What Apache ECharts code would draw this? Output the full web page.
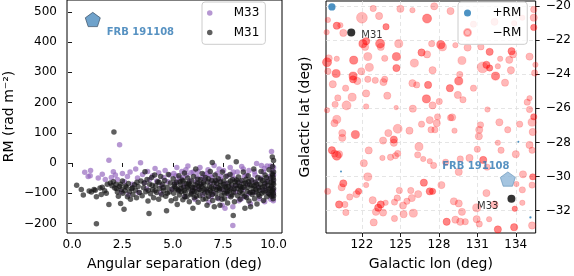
<!DOCTYPE html>
<html><head><meta charset="utf-8">
<script src="https://cdn.jsdelivr.net/npm/echarts@6/dist/echarts.min.js"></script>
<style>html,body{margin:0;padding:0;background:#fff}#c{width:574px;height:276px}</style>
</head><body><div id="c"></div>
<script>
// ---- tick labels ----
const sepTicks = [0, 2.5, 5, 7.5, 10];
const rmTicks = [-200, -100, 0, 100, 200, 300, 400, 500];
const lonTicks = [122, 125, 128, 131, 134];
const latTicks = [-32, -30, -28, -26, -24, -22, -20];

// ---- left panel: [angular separation (deg), RM (rad m^-2)] ----
const m33Points = [
[0.63,-31],[0.92,-25],[0.8,-45],[0.9,-42],[1.5,-37],[1.83,9],[2.05,-29],[1.3,-50],[1.65,-55],[1.95,-48],
[2.36,60],[2.15,-40],[2.25,-55],[2.5,-35],[2.6,-62],[2.75,-45],[2.88,-30],[3.0,-70],[3.16,-20],[3.25,-50],
[3.4,1],[3.5,-38],[3.6,-65],[3.75,-28],[3.85,-55],[4.0,-42],[4.12,-18],[4.2,-60],[4.3,-32],[4.45,-75],
[4.55,-48],[4.62,-25],[4.75,-62],[4.85,-40],[4.95,-88],[2.45,-95],[3.3,-98],[3.7,-85],[4.4,-100],[2.8,-105],
[5.05,-35],[5.12,-68],[5.2,-15],[5.3,-90],[5.35,-50],[5.45,-28],[5.55,-75],[5.6,-112],[5.68,-40],[5.75,-10],
[5.85,-58],[5.95,-95],[6.02,-30],[6.1,-120],[6.15,-62],[6.2,-45],[6.28,-85],[6.35,-15],[6.4,-70],[6.48,-105],
[6.55,-38],[6.6,-55],[6.68,-92],[6.75,-22],[6.8,-130],[6.88,-65],[6.95,-48],[7.0,-100],[7.05,-8],[7.12,-78],
[7.2,-35],[7.28,-118],[7.35,-55],[7.4,-88],[7.45,-140],[7.52,-25],[7.59,-150],[7.62,-68],[7.7,-42],[7.78,-108],
[7.85,-15],[7.92,-80],[7.98,-145],[7.98,-207],[8.05,-52],[8.12,-95],[8.2,-30],[8.28,-125],[8.35,-62],[8.42,-12],
[8.48,-88],[8.55,-45],[8.62,-110],[8.7,-70],[8.78,-25],[8.85,-135],[8.92,-58],[9.0,-98],[9.08,-40],[9.16,-2],
[9.22,-78],[9.3,-118],[9.36,-50],[9.44,-90],[9.5,-30],[9.56,-128],[9.62,-68],[9.68,-10],[9.74,-100],[9.8,-45],
[9.86,-120],[9.9,38],[9.92,-80],[9.95,-25],[9.97,-60],[9.98,-105],[10.0,-15],[10.0,-92],[10.0,-40],[9.99,-125],
[5.25,-60],[5.9,-32],[6.45,-50],[7.15,-60],[7.65,-95],[8.15,-75],[8.65,-40],[9.12,-62],[9.6,-85],[6.9,-112],
[8.4,-118],[5.5,-48],[6.05,-82],[6.7,-35],[7.3,-20],[8.0,-30],[8.8,-100],[9.4,-8],[9.7,-55],
[5.15,-42],[5.65,-22],[6.25,-28],[6.85,-40],[7.4,-45],[7.95,-40],[8.5,-20],[9.05,-28],[9.55,-18],[9.85,-10]
];
const m31Points = [
[0.23,-74],[0.46,-88],[0.56,-106],[0.96,-96],[1.09,-88],[1.21,-112],[1.39,-83],[1.5,-80],[1.62,-92],[1.45,-104],
[1.21,-201],[1.75,-70],[1.83,-137],[1.9,-66],[1.98,-75],[1.15,-90],[0.85,-93],[1.7,-100],[2.08,103],
[2.05,-62],[2.12,-83],[2.18,-70],[2.25,-96],[2.3,-110],[2.36,-78],[2.41,-134],[2.45,-88],[2.5,-60],[2.52,-100],
[2.58,-153],[2.62,-92],[2.7,-80],[2.75,-112],[2.8,-68],[2.85,-95],[2.9,-120],[2.95,-85],[3.02,-104],[3.1,-72],
[3.15,-90],[3.2,-115],[3.28,-78],[3.35,-98],[3.42,-60],[3.48,-108],
[3.55,-82],[3.62,-29],[3.66,-95],[3.72,-55],[3.77,-126],[3.82,-167],[3.85,-70],[3.9,-102],[3.95,-48],[4.0,-88],
[4.05,-115],[4.1,-40],[4.15,-75],[4.2,-98],[4.25,-62],[4.3,-120],[4.35,-84],[4.4,-45],[4.45,-105],[4.5,-70],
[4.55,-92],[4.6,-58],[4.65,-110],[4.69,-158],[4.72,-80],[4.78,-38],[4.82,-96],[4.88,-66],[4.92,-125],[4.97,-85],
[5.02,-52],[5.05,-100],[5.1,-78],[5.14,-118],[5.18,-64],[5.22,-137],[5.25,-88],[5.3,-42],[5.33,-106],[5.38,-72],
[5.42,-95],[5.46,-56],[5.5,-122],[5.54,-80],[5.58,-33],[5.62,-98],[5.66,-68],[5.7,-112],[5.74,-50],[5.78,-86],
[5.82,-128],[5.86,-74],[5.9,-104],[5.94,-60],[5.98,-90],[6.0,-150],[6.03,-45],[6.07,-115],[6.1,-82],[6.14,-20],
[6.18,-96],[6.22,-66],[6.26,-130],[6.3,-78],[6.34,-108],[6.38,-55],[6.42,-92],[6.46,-35],[6.5,-120],[6.54,-70],
[6.58,-100],[6.62,-48],[6.66,-86],[6.7,-140],[6.74,-62],[6.78,-110],[6.82,-76],[6.86,-28],[6.9,-96],[6.94,-58],
[6.96,2],[6.98,-124],[7.02,-84],[7.06,-145],[7.1,-40],[7.14,-102],[7.18,-68],[7.22,-116],[7.26,-52],[7.3,-90],
[7.34,-140],[7.38,-74],[7.42,-106],[7.46,-30],
[7.5,-88],[7.53,-60],[7.57,-118],[7.6,-78],[7.64,-45],[7.68,-100],[7.72,-132],[7.74,20],[7.76,-66],[7.8,-92],
[7.84,-38],[7.88,-112],[7.92,-72],[7.96,-55],[8.0,-174],[8.02,-98],[8.06,-128],[8.1,-62],[8.15,4],[8.18,-84],
[8.22,-108],[8.26,-46],[8.3,-76],[8.34,-120],[8.38,-90],[8.42,-58],[8.46,-102],[8.5,-30],[8.54,-80],[8.58,-150],
[8.62,-66],[8.66,-114],[8.7,-94],[8.74,-42],[8.78,-126],[8.82,-72],[8.86,-145],[8.9,-56],[8.94,-104],[8.98,-84],
[9.02,-20],[9.06,-118],[9.1,-64],[9.14,-96],[9.18,-136],[9.22,-48],[9.26,-82],[9.3,-110],[9.34,-70],[9.38,-28],
[9.42,-100],[9.46,-58],[9.5,-124],[9.54,-78],[9.58,-40],[9.62,-92],[9.66,-112],[9.7,-62],[9.74,-86],[9.78,-22],
[9.82,-104],[9.86,-50],[9.9,-76],[9.92,-94],[9.94,20],[9.96,-40],[9.97,-66],[9.98,-118],[10.0,-84],[10.0,-56],
[10.0,-30],[10.0,8],[9.99,-100],[9.95,-12],
[5.08,-70],[5.28,-92],[5.52,-60],[5.72,-80],[5.92,-100],[6.12,-72],[6.32,-88],[6.52,-64],[6.72,-96],[6.92,-80],
[7.12,-58],[7.32,-84],[7.52,-70],[7.72,-94],[7.9,-86],[8.12,-74],[8.32,-96],[8.52,-68],[8.72,-80],[8.92,-74],
[9.12,-88],[9.32,-90],[9.52,-96],[9.72,-74],[9.88,-64],[5.4,-84],[5.6,-112],[5.8,-66],[6.06,-94],[6.24,-54],
[6.44,-78],[6.64,-118],[6.84,-90],[7.04,-66],[7.24,-80],[7.44,-120],[7.66,-82],[7.86,-60],[8.04,-86],[8.24,-64],
[8.44,-82],[8.64,-54],[8.84,-98],[9.04,-76],[9.24,-104],[9.44,-80],[9.64,-48],[9.84,-84],[4.12,-92],[4.32,-64],
[4.52,-82],[4.72,-100],[3.58,-66],[3.78,-90],[3.98,-74],[3.0,-82],[3.22,-64],[2.65,-76],[2.2,-84],[2.4,-70],
[5.16,-84],[5.36,-62],[5.56,-92],[5.76,-70],[5.96,-80],[6.16,-110],[6.36,-70],[6.56,-86],[6.76,-52],[6.96,-104],
[7.16,-88],[7.36,-62],[7.56,-100],[7.76,-78],[7.94,-106],[8.16,-56],[8.36,-78],[8.56,-110],[8.76,-62],[8.96,-96],
[9.16,-70],[9.36,-54],[9.56,-66],[9.76,-100],[9.9,-110],[10.0,-70],[9.98,-48],[9.96,-90],[9.93,-36],[10.0,-108]
];

// ---- right panel: negative RM sources [lon, lat, RM, overlapping measurements] ----
const negRM = [
[119.35,-20.82,-60,1],[120.04,-21.16,-80,2],[120.32,-21.13,-60,1],[120.55,-21.58,-80,1],[122.0,-20.69,-120,1],
[122.88,-20.15,-70,1],[123.34,-20.59,-80,1],[123.88,-21.22,-70,2],[125.0,-20.17,-80,1],[125.94,-20.25,-60,1],
[127.08,-20.74,-100,2],[119.25,-21.54,-60,1],[122.08,-22.21,-90,2],[122.33,-22.07,-80,2],[122.25,-22.4,-80,1],
[123.42,-22.21,-100,2],[123.47,-22.4,-80,1],[124.87,-22.21,-90,1],[119.41,-23.07,-80,1],[119.28,-23.3,-100,2],
[120.04,-23.1,-60,1],[121.36,-23.18,-90,2],[122.46,-22.97,-90,1],[123.78,-23.07,-70,1],[124.69,-22.97,-90,2],
[126.09,-23.35,-90,1],[126.65,-22.73,-80,2],[127.08,-22.84,-80,1],[119.35,-23.83,-70,1],[119.99,-23.96,-90,2],
[121.95,-23.83,-80,1],[122.58,-23.6,-90,1],[124.69,-23.64,-80,2],[121.31,-24.11,-90,2],[121.31,-24.3,-80,2],
[121.64,-24.4,-80,1],[122.46,-24.3,-70,1],[123.04,-24.36,-70,1],[123.78,-24.3,-70,1],[123.68,-24.46,-80,1],
[119.73,-24.59,-80,1],[120.73,-24.82,-70,1],[122.33,-25.13,-80,1],[123.98,-25.26,-80,1],[125.94,-24.53,-80,1],
[126.27,-24.63,-70,1],[127.16,-24.63,-80,2],[120.12,-25.39,-70,1],[121.24,-25.35,-90,1],[119.91,-25.77,-70,1],
[120.8,-25.83,-100,1],[122.33,-25.89,-60,1],[124.67,-25.96,-50,1],[125.97,-26.02,-80,1],[127.03,-25.45,-90,2],
[119.28,-26.11,-60,1],
[128.91,-20.3,-80,1],[127.44,-22.21,-70,1],[128.15,-22.27,-90,2],[128.28,-22.4,-90,1],[129.29,-22.3,-60,1],
[130.24,-22.44,-80,1],[131.28,-22.4,-70,1],[131.96,-22.69,-80,2],[133.67,-22.65,-80,2],[133.79,-22.84,-80,1],
[129.8,-23.2,-90,1],[127.51,-23.77,-80,1],[131.41,-23.6,-120,1],[131.71,-23.45,-80,2],[131.96,-23.64,-70,2],
[132.6,-23.54,-60,1],[132.78,-23.1,-60,1],[133.49,-23.16,-80,1],[133.62,-23.77,-80,1],[132.42,-24.11,-90,2],
[133.16,-24.5,-80,1],[129.63,-24.02,-70,1],[129.55,-24.4,-90,2],[128.86,-24.82,-80,2],[130.7,-24.82,-70,1],
[129.48,-25.22,-80,1],[129.88,-25.5,-70,1],[128.03,-25.6,-70,1],[127.51,-25.83,-80,1],[129.04,-26.53,-80,1],
[127.9,-26.5,-70,1],[131.79,-26.07,-60,1],[134.89,-25.64,-70,1],[135.07,-26.07,-70,1],[135.07,-25.41,-60,1],
[135.4,-26.5,-70,2],[135.07,-22.97,-80,1],[135.4,-20.69,-80,1],[135.4,-21.26,-70,2],[135.53,-23.45,-60,1],
[135.47,-23.93,-70,1],[135.4,-20.21,-70,1],[130.7,-21.07,-70,1],[132.34,-20.93,-80,1],[133.87,-21.01,-60,1],
[134.51,-20.69,-60,1],[127.64,-20.02,-80,1],
[120.04,-26.65,-90,1],[119.86,-26.87,-80,1],[120.47,-27.45,-80,1],[120.47,-27.73,-80,1],[121.49,-27.54,-90,2],
[119.66,-28.46,-80,2],[120.04,-28.78,-100,2],[119.86,-28.65,-80,1],[120.22,-28.69,-80,1],[122.53,-28.47,-80,1],
[122.15,-29.22,-80,1],[123.65,-27.89,-80,1],[124.06,-27.45,-80,1],[124.49,-27.83,-80,2],[124.49,-28.02,-80,1],
[124.79,-27.2,-100,1],[125.71,-27.31,-80,1],[126.65,-26.93,-70,1],[127.29,-26.69,-80,1],[123.6,-28.91,-60,1],
[124.23,-28.87,-70,1],[124.62,-28.78,-70,1],[124.79,-28.65,-70,1],[126.45,-28.25,-90,1],[126.35,-28.73,-70,1],
[126.78,-28.97,-60,1],[127.29,-29.1,-60,1],[122.46,-30.02,-90,1],[122.33,-30.5,-60,1],[120.55,-30.4,-80,2],
[120.42,-30.63,-80,1],[119.33,-30.87,-70,1],[121.57,-31.03,-80,1],[121.74,-30.87,-70,2],[121.05,-31.2,-70,1],
[120.22,-31.64,-80,2],[120.67,-31.64,-70,1],[120.75,-32.11,-70,1],[122.84,-31.39,-80,1],[123.47,-31.64,-80,2],
[123.27,-31.83,-80,2],[123.09,-32.07,-80,1],[123.65,-32.11,-80,1],[123.85,-31.54,-60,1],[124.54,-31.5,-70,1],
[124.75,-31.26,-70,1],[124.92,-30.82,-70,1],[125.2,-31.7,-80,1],[125.51,-31.45,-70,1],[125.89,-31.26,-80,1],
[125.81,-30.82,-70,1],[126.39,-31.03,-80,1],[126.83,-30.36,-80,2],[127.29,-30.87,-80,2],[125.25,-32.21,-80,1],
[126.01,-32.15,-90,1],[124.54,-32.46,-70,1],[122.92,-32.69,-80,1],
[127.84,-26.87,-80,1],[127.39,-27.26,-70,1],[127.69,-27.26,-70,1],[128.91,-26.55,-70,1],[129.22,-27.31,-60,1],
[131.15,-27.26,-80,1],[131.25,-26.97,-70,1],[131.12,-27.64,-80,1],[132.72,-26.82,-80,1],[133.37,-27.26,-70,1],
[134.3,-26.93,-70,1],[135.27,-26.82,-90,1],[135.32,-27.39,-80,1],[135.07,-28.15,-80,1],[135.27,-28.46,-70,1],
[134.0,-28.69,-80,1],[132.6,-28.02,-60,1],[132.85,-28.46,-70,1],[131.0,-28.4,-70,1],[130.39,-28.91,-80,1],
[131.46,-29.03,-80,2],[131.76,-29.45,-70,1],[129.67,-28.97,-70,1],[128.53,-29.16,-70,1],[127.59,-29.35,-70,1],
[129.55,-29.73,-80,1],[127.51,-30.87,-70,2],[128.2,-30.5,-80,1],[134.56,-29.87,-80,1],[134.05,-30.44,-60,1],
[134.51,-30.78,-70,1],[135.32,-30.02,-70,2],[135.27,-30.5,-70,1],[131.71,-30.97,-80,1],[129.17,-31.45,-80,1],
[129.55,-31.58,-80,1],[129.8,-32.07,-80,1],[130.95,-31.83,-90,1],[130.95,-32.5,-80,1],[131.92,-32.5,-60,1],
[132.34,-31.64,-80,1],[133.92,-31.89,-60,2],[134.51,-31.54,-60,1],[135.27,-32.87,-80,1],[128.61,-32.65,-80,2],
[129.29,-32.53,-80,1],[129.67,-32.65,-80,1],[130.06,-32.65,-70,1],[131.15,-32.78,-70,1],[132.6,-33.1,-80,2],
[133.87,-32.97,-80,2]
];
// positive RM sources [lon, lat, RM]
const posRM = [[119.66,-20.06,80],[120.37,-29.7,20],[134.2,-27.96,20],[135.14,-32.4,25]];
// galaxies
const galaxyNames = ['M31', 'M33'];
const galaxyLon = [121.17, 133.66];
const galaxyLat = [-21.55, -31.3];
// FRB
const frbName = 'FRB 191108';
const frbSep = 1.03, frbRM = 475, frbLon = 133.38, frbLat = -30.15;

const FONT = 'DejaVu Sans';
const minus = v => String(v).replace('-', '\u2212');
const pent = 'path://M0,-10L9.511,-3.09L5.878,8.09L-5.878,8.09L-9.511,-3.09Z';
const tick = vals => ({show: true, inside: false, length: 4, lineStyle: {color: '#000', width: 0.9}, customValues: vals});
const lbl = (vals, fmt, margin) => ({customValues: vals, formatter: fmt, fontSize: 12, color: '#000', margin: margin, fontFamily: FONT});
const nameStyle = {fontSize: 14, color: '#000', fontFamily: FONT};
const sizeOf = rm => Math.max(2, Math.abs(rm) / 11);

const chart = echarts.init(document.getElementById('c'), null, {renderer: 'canvas'});
const option = {
  animation: false,
  textStyle: {fontFamily: FONT},
  grid: [
    {left: 67, top: -2, width: 215, height: 238, show: true, borderColor: '#000', borderWidth: 1, backgroundColor: 'transparent'},
    {left: 326, top: -2, width: 214, height: 238, show: true, borderColor: '#000', borderWidth: 1, backgroundColor: 'transparent'}
  ],
  xAxis: [
    {type: 'value', gridIndex: 0, min: -0.25, max: 10.42, axisLine: {show: false}, axisTick: tick(sepTicks),
     axisLabel: lbl(sepTicks, v => v.toFixed(1), 6), splitLine: {show: false},
     name: 'Angular separation (deg)', nameLocation: 'middle', nameGap: 24, nameTextStyle: nameStyle},
    {type: 'value', gridIndex: 1, min: 119.2, max: 135.55, axisLine: {show: false}, axisTick: tick(lonTicks),
     axisLabel: lbl(lonTicks, v => String(v), 6),
     splitLine: {show: true, lineStyle: {color: '#dedede', type: [4, 3], width: 0.8}},
     name: 'Galactic lon (deg)', nameLocation: 'middle', nameGap: 24, nameTextStyle: nameStyle}
  ],
  yAxis: [
    {type: 'value', gridIndex: 0, min: -231.7, max: 539.5, axisLine: {show: false}, axisTick: tick(rmTicks),
     axisLabel: lbl(rmTicks, minus, 10), splitLine: {show: false},
     name: 'RM (rad m\u207B\u00B2)', nameLocation: 'middle', nameGap: 51, nameRotate: 90, nameTextStyle: nameStyle},
    {type: 'value', gridIndex: 1, position: 'right', min: -33.31, max: -19.71, axisLine: {show: false}, axisTick: tick(latTicks),
     axisLabel: lbl(latTicks, minus, 10),
     splitLine: {show: true, lineStyle: {color: '#dedede', type: [4, 3], width: 0.8}}},
    {type: 'value', gridIndex: 1, position: 'left', min: -33.31, max: -19.71, axisLine: {show: false}, axisTick: {show: false},
     axisLabel: {show: false}, splitLine: {show: false},
     name: 'Galactic lat (deg)', nameLocation: 'middle', nameGap: 14, nameRotate: 90, nameTextStyle: nameStyle}
  ],
  legend: [
    {data: ['M33', 'M31'], orient: 'vertical', left: 202, top: 2, itemWidth: 25, itemHeight: 5.5, itemGap: 5.6,
     padding: [4, 6, 4.7, 5], selectedMode: false,
     textStyle: {fontSize: 12, color: '#000', lineHeight: 14, padding: [0, 0, 0, 6.5], fontFamily: FONT},
     backgroundColor: 'rgba(255,255,255,0.8)', borderColor: '#cccccc', borderWidth: 1, borderRadius: 3},
    {data: ['+RM', '\u2212RM'], orient: 'vertical', left: 458, top: 2, itemWidth: 24, itemHeight: 7, itemGap: 5.6,
     padding: [4, 6, 4.7, 5], selectedMode: false,
     textStyle: {fontSize: 12, color: '#000', lineHeight: 14, padding: [0, 0, 0, 8], fontFamily: FONT},
     backgroundColor: 'rgba(255,255,255,0.8)', borderColor: '#cccccc', borderWidth: 1, borderRadius: 3}
  ],
  series: [
    {name: 'M33', type: 'scatter', xAxisIndex: 0, yAxisIndex: 0, data: m33Points, symbolSize: 5.5,
     itemStyle: {color: 'rgba(148,103,189,0.85)'}},
    {name: 'M31', type: 'scatter', xAxisIndex: 0, yAxisIndex: 0, data: m31Points, symbolSize: 5.5,
     itemStyle: {color: 'rgba(20,20,20,0.85)'}},
    {name: frbName, type: 'scatter', xAxisIndex: 0, yAxisIndex: 0, data: [[frbSep, frbRM]],
     symbol: pent, symbolSize: 15, symbolKeepAspect: true, z: 5,
     itemStyle: {color: '#4b8bbe', borderColor: '#2a3f55', borderWidth: 0.8},
     label: {show: true, formatter: frbName, position: 'right', distance: 6, offset: [0, 13],
             color: '#2d77b3', fontWeight: 'bold', fontSize: 10, fontFamily: FONT}},
    {name: '\u2212RM', type: 'scatter', xAxisIndex: 1, yAxisIndex: 1,
     data: negRM.map(d => ({value: [d[0], d[1]], symbolSize: sizeOf(d[2]),
       itemStyle: {opacity: 1 - Math.pow(0.72, d[3])}})),
     itemStyle: {color: 'rgb(255,0,0)', opacity: 0.28, borderColor: 'rgb(255,0,0)', borderWidth: 0.5}},
    {name: '+RM', type: 'scatter', xAxisIndex: 1, yAxisIndex: 1,
     data: posRM.map(d => ({value: [d[0], d[1]], symbolSize: sizeOf(d[2])})),
     itemStyle: {color: '#1f77b4', opacity: 0.8}},
    {name: 'galaxies', type: 'scatter', xAxisIndex: 1, yAxisIndex: 1, z: 4, symbolSize: 8,
     itemStyle: {color: '#000'},
     data: galaxyNames.map((n, i) => ({value: [galaxyLon[i], galaxyLat[i]], name: n,
       label: i === 0 ? {position: 'right', distance: 6, offset: [0, 3]} : {position: 'left', distance: 9, offset: [0, 8]}})),
     label: {show: true, formatter: p => p.name, fontSize: 10, color: '#000', fontFamily: FONT}},
    {name: frbName + ' ', type: 'scatter', xAxisIndex: 1, yAxisIndex: 1, z: 5,
     data: [[frbLon, frbLat]], symbol: pent, symbolSize: 15, symbolKeepAspect: true,
     itemStyle: {color: '#8fb6d8', borderColor: '#5f8db5', borderWidth: 0.8},
     label: {show: true, formatter: frbName, position: 'top', distance: 3, offset: [-32, 3],
             color: '#2d77b3', fontWeight: 'bold', fontSize: 10, fontFamily: FONT}}
  ]
};
chart.setOption(option);
</script>
</body></html>
